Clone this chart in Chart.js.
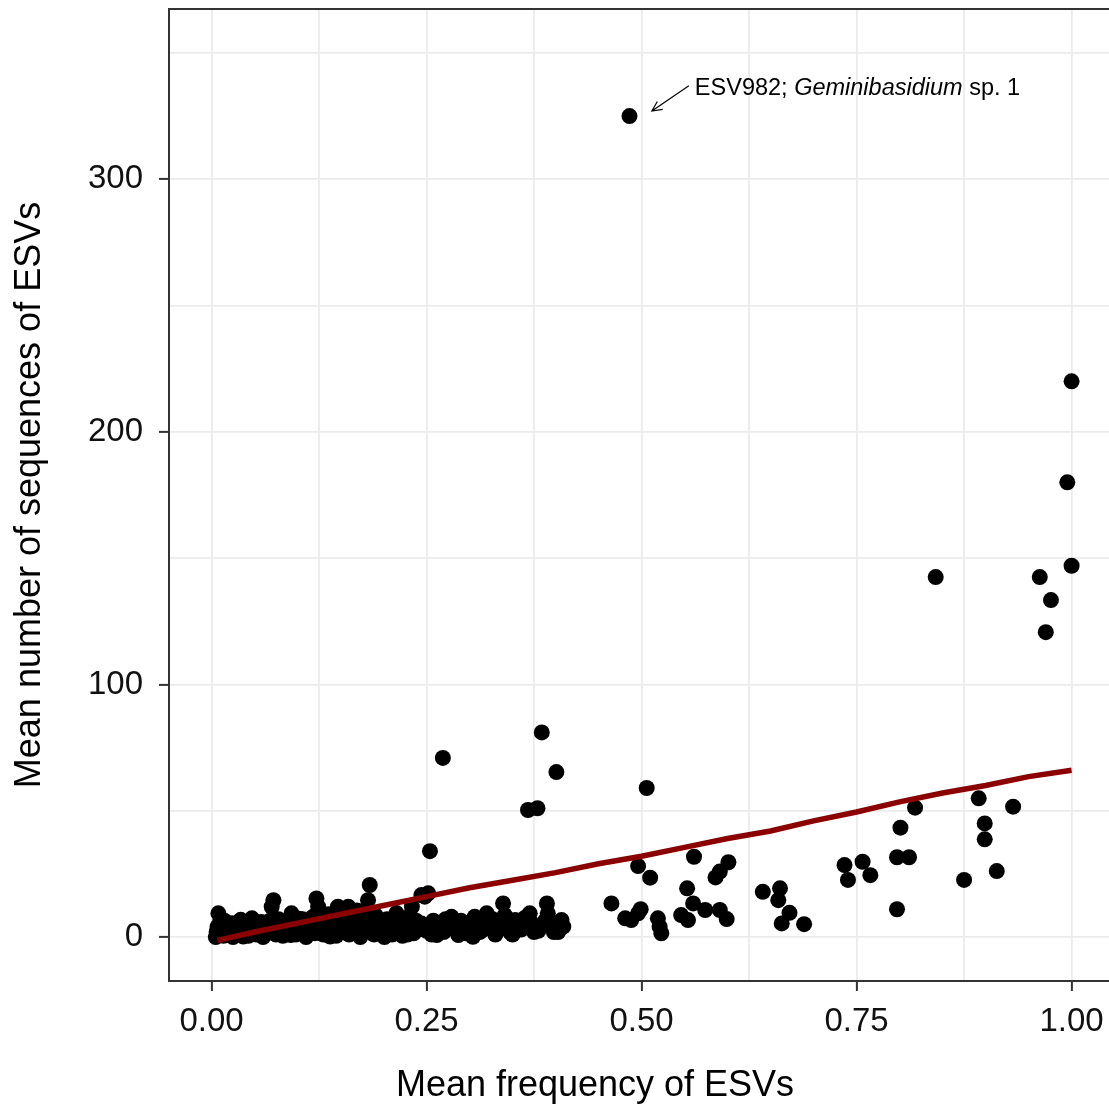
<!DOCTYPE html>
<html>
<head>
<meta charset="utf-8">
<script src="https://cdn.jsdelivr.net/npm/chart.js@4.4.0/dist/chart.umd.min.js"></script>
<style>
  html, body { margin: 0; padding: 0; background: #fff; overflow: hidden; }
  #wrap { width: 1125px; height: 1104px; }
</style>
</head>
<body>
<div id="wrap"><canvas id="chart" width="1125" height="1104"></canvas></div>
<script>
// mean frequency of each ESV (x) and its mean number of sequences (y)
const esvFreq = [
  0.005, 0.006, 0.007, 0.008, 0.009, 0.010, 0.012, 0.014, 0.016, 0.018,
  0.020, 0.022, 0.025, 0.027, 0.030, 0.032, 0.035, 0.038, 0.040, 0.043,
  0.045, 0.047, 0.050, 0.052, 0.055, 0.058, 0.060, 0.063, 0.066, 0.070,
  0.072, 0.072, 0.075, 0.078, 0.080, 0.083, 0.086, 0.090, 0.093, 0.095,
  0.098, 0.100, 0.103, 0.106, 0.110, 0.112, 0.115, 0.118, 0.122, 0.124,
  0.126, 0.130, 0.133, 0.136, 0.139, 0.142, 0.145, 0.147, 0.150, 0.153,
  0.156, 0.159, 0.160, 0.163, 0.167, 0.170, 0.173, 0.176, 0.180, 0.182,
  0.184, 0.186, 0.189, 0.192, 0.195, 0.198, 0.201, 0.204, 0.207, 0.210,
  0.213, 0.216, 0.219, 0.222, 0.225, 0.228, 0.231, 0.233, 0.236, 0.240,
  0.244, 0.244, 0.248, 0.252, 0.254, 0.256, 0.260, 0.262, 0.269, 0.270,
  0.275, 0.279, 0.283, 0.287, 0.292, 0.298, 0.304, 0.306, 0.312, 0.320,
  0.324, 0.330, 0.339, 0.339, 0.341, 0.347, 0.353, 0.360, 0.368, 0.370,
  0.375, 0.379, 0.384, 0.386, 0.390, 0.391, 0.395, 0.401, 0.403, 0.407,
  0.409, 0.011, 0.015, 0.019, 0.024, 0.029, 0.034, 0.037, 0.042, 0.049,
  0.054, 0.057, 0.062, 0.068, 0.074, 0.077, 0.082, 0.088, 0.092, 0.097,
  0.102, 0.108, 0.114, 0.120, 0.128, 0.132, 0.138, 0.141, 0.148, 0.152,
  0.158, 0.165, 0.169, 0.172, 0.178, 0.185, 0.191, 0.196, 0.200, 0.206,
  0.211, 0.215, 0.221, 0.226, 0.230, 0.235, 0.238, 0.242, 0.250, 0.258,
  0.266, 0.272, 0.281, 0.290, 0.296, 0.301, 0.310, 0.316, 0.327, 0.334,
  0.345, 0.350, 0.357, 0.364, 0.372, 0.380, 0.388, 0.398,
  0.465, 0.481, 0.486, 0.488, 0.496, 0.496, 0.499, 0.506, 0.510,
  0.519, 0.521, 0.523, 0.546, 0.553, 0.554, 0.560, 0.561, 0.574, 0.586,
  0.591, 0.591, 0.599, 0.601, 0.641, 0.659, 0.661, 0.663, 0.672, 0.689,
  0.736, 0.740, 0.757, 0.766, 0.797, 0.797, 0.801, 0.811, 0.818, 0.842,
  0.875, 0.892, 0.899, 0.899, 0.913, 0.932, 0.963, 0.970, 0.976, 0.995,
  1.000, 1.000
];
const esvSeqs = [
  0.0, 2.0, 4.0, 9.4, 1.0, 6.0, 3.0, 0.5, 2.0, 5.0,
  1.0, 3.0, 0.0, 4.0, 2.0, 6.0, 1.0, 3.0, 5.0, 0.5,
  2.0, 7.4, 4.0, 1.0, 3.0, 6.0, 0.0, 2.0, 5.0, 12.0,
  14.6, 3.0, 1.0, 7.0, 4.0, 0.5, 2.0, 6.0, 9.4, 3.0,
  1.0, 5.0, 2.0, 7.0, 0.0, 4.0, 2.0, 8.0, 15.3, 12.0,
  3.0, 1.0, 5.0, 9.0, 2.0, 6.0, 0.5, 12.0, 4.0, 2.0,
  7.0, 12.0, 1.0, 9.0, 4.8, 2.0, 0.0, 6.0, 3.0, 14.6,
  20.6, 8.0, 1.0, 5.0, 2.0, 4.0, 0.0, 7.0, 3.0, 1.0,
  7.4, 2.0, 5.0, 0.5, 3.0, 1.0, 6.0, 12.0, 2.0, 4.0,
  5.4, 16.6, 16.0, 17.3, 34.0, 1.0, 4.1, 0.8, 70.9, 2.0,
  4.1, 8.0, 3.0, 0.8, 2.0, 5.0, 0.1, 8.0, 2.0, 9.4,
  4.1, 1.0, 13.3, 4.1, 8.7, 2.0, 6.7, 3.0, 50.3, 9.4,
  2.0, 51.0, 81.0, 5.0, 13.3, 9.4, 4.8, 65.3, 2.0, 6.7,
  4.1, 4.5, 6.5, 2.5, 5.5, 3.5, 6.8, 0.2, 4.2, 2.8,
  5.8, 1.2, 3.8, 6.5, 2.2, 4.8, 6.2, 3.2, 0.8, 5.5,
  7.2, 3.5, 5.8, 1.5, 6.5, 3.2, 0.2, 4.5, 7.5, 5.2,
  2.8, 6.2, 10.5, 4.2, 7.8, 2.5, 8.5, 6.2, 3.5, 5.5,
  2.5, 9.5, 6.8, 4.5, 8.2, 1.5, 6.5, 3.2, 2.5, 6.5,
  3.5, 7.0, 5.5, 6.5, 1.5, 4.5, 6.0, 3.0, 7.0, 3.0,
  5.5, 1.0, 4.0, 7.5, 5.5, 2.5, 6.5, 2.0,
  13.3, 7.4, 325.0, 6.7, 28.1, 9.4, 11.0, 59.0, 23.5,
  7.4, 4.1, 1.5, 8.7, 19.3, 6.7, 13.3, 31.8, 10.7, 23.6,
  25.9, 10.7, 7.1, 29.6, 17.9, 14.6, 19.3, 5.4, 9.6, 5.1,
  28.5, 22.6, 29.8, 24.5, 31.6, 11.0, 43.3, 31.6, 51.2, 142.5,
  22.6, 54.9, 45.0, 38.7, 26.1, 51.6, 142.5, 120.7, 133.4, 180.0,
  220.0, 147.0
];

// smoothed trend (red line)
const trendFreq = [0.007, 0.05, 0.10, 0.15, 0.20, 0.25, 0.30, 0.35, 0.40, 0.45, 0.50,
                   0.55, 0.60, 0.65, 0.70, 0.75, 0.80, 0.85, 0.90, 0.95, 1.00];
const trendSeqs = [-1.3, 2.0, 5.5, 9.0, 12.5, 16.0, 19.5, 22.5, 25.5, 29.0, 32.0,
                   35.5, 39.0, 42.0, 46.0, 49.5, 53.5, 57.0, 60.0, 63.5, 66.0];

// axis ticks
const xMajor = [0, 0.25, 0.5, 0.75, 1];
const xLabels = ["0.00", "0.25", "0.50", "0.75", "1.00"];
const xMinor = [0.125, 0.375, 0.625, 0.875];
const yMajor = [0, 100, 200, 300];
const yLabels = ["0", "100", "200", "300"];
const yMinor = [50, 150, 250, 350];

// callout for the outlier, in data units
const notePoint = [0.512, 327];
const noteTail = [0.555, 337];
const noteText = [0.562, 336];
const noteParts = [["ESV982; ", false], ["Geminibasidium", true], [" sp. 1", false]];

const xTitle = "Mean frequency of ESVs";

const FONT = '"Liberation Sans", Arial, sans-serif';
const FRAME = "#333333";
const GRID = "#EBEBEB";

function buildTicks(major, minor) {
    return major.concat(minor).sort((a, b) => a - b).map(v => ({ value: v }));
}

function frameAndNote() {
    return {
        id: "frameAndNote",
        afterDatasetsDraw(chart) {
            const { ctx, chartArea, scales } = chart;
            const x = scales.x, y = scales.y;
            ctx.save();

            // top edge of the panel
            ctx.strokeStyle = FRAME;
            ctx.lineWidth = 2;
            ctx.beginPath();
            ctx.moveTo(chartArea.left, chartArea.top);
            ctx.lineTo(chartArea.right, chartArea.top);
            ctx.stroke();

            // arrow pointing at the outlier
            const x0 = x.getPixelForValue(noteTail[0]), y0 = y.getPixelForValue(noteTail[1]);
            const x1 = x.getPixelForValue(notePoint[0]), y1 = y.getPixelForValue(notePoint[1]);
            const ang = Math.atan2(y1 - y0, x1 - x0);
            ctx.strokeStyle = "#000";
            ctx.lineWidth = 1.2;
            ctx.beginPath();
            ctx.moveTo(x0, y0);
            ctx.lineTo(x1, y1);
            ctx.moveTo(x1 - 11 * Math.cos(ang - 0.45), y1 - 11 * Math.sin(ang - 0.45));
            ctx.lineTo(x1, y1);
            ctx.lineTo(x1 - 11 * Math.cos(ang + 0.45), y1 - 11 * Math.sin(ang + 0.45));
            ctx.stroke();

            // label text, genus name in italics
            let tx = x.getPixelForValue(noteText[0]);
            const ty = y.getPixelForValue(noteText[1]);
            ctx.fillStyle = "#000";
            ctx.textBaseline = "middle";
            ctx.textAlign = "left";
            for (const [txt, italic] of noteParts) {
                ctx.font = (italic ? "italic " : "") + "23.5px " + FONT;
                ctx.fillText(txt, tx, ty);
                tx += ctx.measureText(txt).width;
            }

            // x axis title (sits left of the panel centre in the original)
            ctx.font = "36px " + FONT;
            ctx.textAlign = "center";
            ctx.textBaseline = "alphabetic";
            ctx.fillText(xTitle, chartArea.left + 426, 1096);
            ctx.restore();
        }
    };
}

const ctx = document.getElementById("chart").getContext("2d");

new Chart(ctx, {
    type: "scatter",
    data: {
        datasets: [
            {
                label: "trend",
                data: trendFreq.map((v, i) => ({ x: v, y: trendSeqs[i] })),
                showLine: true,
                borderColor: "#8B0000",
                borderWidth: 5.5,
                pointRadius: 0,
                tension: 0,
                fill: false
            },
            {
                label: "ESVs",
                data: esvFreq.map((v, i) => ({ x: v, y: esvSeqs[i] })),
                backgroundColor: "#000",
                borderWidth: 0,
                pointRadius: 8,
                pointHoverRadius: 8
            }
        ]
    },
    options: {
        responsive: false,
        animation: false,
        events: [],
        layout: { padding: { top: 9, right: 10.4, bottom: 0, left: 0 } },
        plugins: {
            legend: { display: false },
            tooltip: { enabled: false }
        },
        scales: {
            x: {
                type: "linear",
                min: -0.0494,
                max: 1.05,
                afterBuildTicks: (scale) => { scale.ticks = buildTicks(xMajor, xMinor); },
                afterFit: (scale) => {
                    scale.height = 123;
                    scale.paddingLeft = 0;
                    scale.paddingRight = 0;
                },
                grid: {
                    color: GRID,
                    lineWidth: 1.8,
                    tickLength: 10,
                    tickWidth: 2,
                    tickColor: (c) => xMajor.includes(c.tick.value) ? FRAME : "rgba(0,0,0,0)"
                },
                border: { display: true, color: FRAME, width: 2 },
                ticks: {
                    autoSkip: false,
                    maxRotation: 0,
                    padding: 11,
                    color: "#111",
                    font: { family: FONT, size: 33 },
                    callback: (v) => {
                        const i = xMajor.indexOf(v);
                        return i >= 0 ? xLabels[i] : "";
                    }
                },
                title: { display: false }
            },
            y: {
                type: "linear",
                min: -17.4,
                max: 367.4,
                afterBuildTicks: (scale) => { scale.ticks = buildTicks(yMajor, yMinor); },
                afterFit: (scale) => {
                    scale.width = 169;
                    scale.paddingTop = 0;
                    scale.paddingBottom = 0;
                },
                grid: {
                    color: GRID,
                    lineWidth: 1.8,
                    tickLength: 10,
                    tickWidth: 2,
                    tickColor: (c) => yMajor.includes(c.tick.value) ? FRAME : "rgba(0,0,0,0)"
                },
                border: { display: true, color: FRAME, width: 2 },
                ticks: {
                    autoSkip: false,
                    padding: 16,
                    color: "#111",
                    font: { family: FONT, size: 33 },
                    callback: (v) => {
                        const i = yMajor.indexOf(v);
                        return i >= 0 ? yLabels[i] : "";
                    }
                },
                title: {
                    display: true,
                    text: "Mean number of sequences of ESVs",
                    color: "#000",
                    font: { family: FONT, size: 36, lineHeight: 1.2 },
                    padding: { top: 8, bottom: 0 }
                }
            }
        }
    },
    plugins: [frameAndNote()]
});
</script>
</body>
</html>
